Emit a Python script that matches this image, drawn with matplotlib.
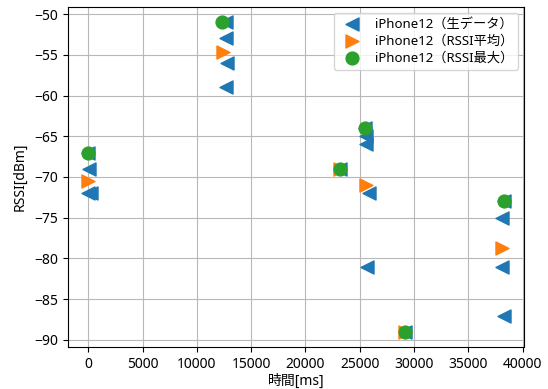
import matplotlib
matplotlib.use("Agg")
import matplotlib.pyplot as plt

plt.rcParams['font.family'] = ['Noto Sans', 'Noto Sans CJK JP', 'DejaVu Sans']
plt.rcParams['font.size'] = 10

# Raw RSSI samples (time in ms, RSSI in dBm)
raw_time_ms = [0, 50, 0, 250,
               12700, 12650, 12750, 12650,
               23200,
               25500, 25550, 25550, 25850, 25700,
               29150,
               38250, 38150, 38150, 38250]
raw_rssi = [-67, -69, -72, -72,
            -51, -53, -56, -59,
            -69,
            -64, -65, -66, -72, -81,
            -89,
            -73, -75, -81, -87]

# Averaged RSSI per burst
mean_time_ms = [0, 12400, 23200, 25550, 29150, 38100]
mean_rssi = [-70.5, -54.7, -69, -71, -89, -78.7]

# Maximum RSSI per burst
max_time_ms = [0, 12350, 23200, 25450, 29150, 38250]
max_rssi = [-67, -51, -69, -64, -89, -73]

labels = ['iPhone12（生データ）', 'iPhone12（RSSI平均）', 'iPhone12（RSSI最大）']

fig = plt.figure(figsize=(5.48, 3.89), dpi=100)
ax = fig.add_axes([0.1235, 0.1072, 0.8333, 0.8756])

ax.scatter(raw_time_ms, raw_rssi, marker='<', s=88, color='#1f77b4', label=labels[0], zorder=3)
ax.scatter(mean_time_ms, mean_rssi, marker='>', s=88, color='#ff7f0e', label=labels[1], zorder=3)
ax.scatter(max_time_ms, max_rssi, marker='o', s=85, color='#2ca02c', label=labels[2], zorder=3)

ax.set_xticks(range(0, 40001, 5000))
ax.set_yticks(range(-90, -49, 5))
ax.grid(True, color='#b8b8b8', linewidth=0.8)
ax.set_axisbelow(True)

ax.set_xlabel('時間[ms]', labelpad=1)
ax.set_ylabel('RSSI[dBm]', labelpad=5)
ax.legend(loc='upper right', fontsize=9.5, labelspacing=0.3, borderaxespad=0.45,
          handletextpad=0.7)

fig.savefig('out.png', dpi=100)
